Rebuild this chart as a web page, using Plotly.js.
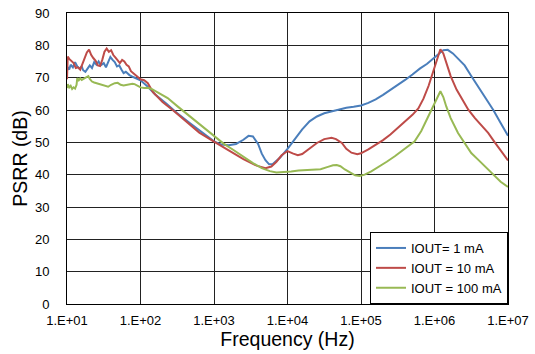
<!DOCTYPE html>
<html>
<head>
<meta charset="utf-8">
<script src="https://cdn.plot.ly/plotly-3.0.1.min.js"></script>
<style>html,body{margin:0;padding:0;background:#fff}#chart{width:535px;height:354px}</style>
</head>
<body>
<div id="chart"></div>
<script>
// log10(frequency in Hz) and PSRR (dB)
var logF_1mA = [1.00,1.03,1.05,1.08,1.11,1.14,1.17,1.20,1.22,1.25,1.28,1.31,1.34,1.37,1.40,1.43,1.46,1.50,1.53,1.56,1.59,1.62,1.65,1.68,1.71,1.74,1.77,1.80,1.85,1.90,1.95,2.00,2.10,2.20,2.35,2.50,2.67,2.85,3.00,3.10,3.20,3.30,3.40,3.47,3.53,3.60,3.65,3.70,3.75,3.80,3.90,4.00,4.10,4.20,4.30,4.40,4.50,4.60,4.70,4.80,4.90,5.00,5.10,5.20,5.30,5.40,5.50,5.60,5.70,5.80,5.90,6.00,6.08,6.12,6.18,6.25,6.33,6.41,6.50,6.60,6.70,6.80,6.90,7.00];
var psrr_1mA = [73.5,72.5,74.0,73.2,74.8,73.5,72.8,73.5,72.3,71.8,72.8,73.8,73.0,74.8,74.0,75.0,73.8,74.5,73.2,74.8,76.4,75.5,74.8,73.5,73.8,72.5,71.4,71.8,70.8,70.2,69.6,69.2,67.2,64.8,62.0,59.0,56.0,53.0,50.3,49.3,49.1,49.5,50.8,52.0,51.8,49.5,46.5,44.5,43.2,43.3,45.3,48.0,51.0,54.0,56.5,58.0,59.0,59.6,60.2,60.7,61.0,61.4,62.2,63.3,64.7,66.2,67.7,69.3,71.0,72.8,74.3,76.4,77.8,78.5,78.6,77.5,75.5,73.8,70.5,67.0,63.8,60.0,56.0,52.0];

var logF_10mA = [1.00,1.01,1.03,1.06,1.09,1.12,1.15,1.18,1.21,1.24,1.27,1.30,1.33,1.36,1.39,1.42,1.45,1.48,1.51,1.54,1.57,1.60,1.63,1.66,1.69,1.72,1.75,1.78,1.81,1.84,1.87,1.91,1.95,2.00,2.05,2.10,2.17,2.30,2.45,2.60,2.80,3.00,3.20,3.40,3.58,3.70,3.78,3.85,3.92,4.00,4.07,4.14,4.20,4.30,4.40,4.50,4.60,4.66,4.74,4.80,4.87,4.95,5.00,5.10,5.20,5.30,5.40,5.50,5.60,5.70,5.78,5.85,5.92,5.98,6.03,6.08,6.12,6.17,6.22,6.30,6.38,6.46,6.55,6.65,6.73,6.82,6.90,7.00];
var psrr_10mA = [69.5,76.5,75.8,75.0,74.5,73.0,73.2,72.5,74.5,76.5,77.8,78.7,77.0,76.0,75.2,73.8,73.6,75.5,78.0,79.0,78.0,78.5,77.0,76.2,75.2,74.5,75.5,75.0,74.0,73.5,72.0,71.2,70.2,69.5,69.2,68.3,65.5,62.5,59.8,57.0,53.0,50.2,47.4,44.8,42.8,42.0,42.5,44.0,46.0,47.3,46.6,46.0,46.4,48.0,49.8,51.0,51.4,51.0,49.8,48.0,46.8,46.3,46.6,47.8,49.2,50.7,52.4,54.4,56.5,58.5,60.5,63.5,67.5,72.0,75.5,78.8,77.5,74.0,70.5,66.3,63.0,60.1,57.5,55.0,52.9,50.0,47.5,44.4];

var logF_100mA = [1.00,1.01,1.03,1.05,1.07,1.09,1.11,1.13,1.14,1.16,1.18,1.20,1.23,1.26,1.29,1.31,1.34,1.37,1.40,1.44,1.48,1.52,1.56,1.60,1.65,1.69,1.73,1.77,1.81,1.85,1.89,1.92,1.96,2.00,2.05,2.10,2.15,2.25,2.37,2.50,2.67,2.85,3.00,3.13,3.26,3.40,3.53,3.65,3.76,3.85,3.95,4.05,4.15,4.25,4.35,4.45,4.55,4.62,4.67,4.72,4.78,4.85,4.92,4.98,5.05,5.14,5.25,5.35,5.46,5.60,5.73,5.82,5.91,6.00,6.08,6.12,6.16,6.22,6.32,6.40,6.50,6.60,6.70,6.80,6.90,7.00];
var psrr_100mA = [66.8,68.0,67.0,67.5,66.5,67.0,66.6,67.8,69.9,69.2,69.8,69.3,69.7,70.2,70.5,69.6,68.8,68.5,68.3,68.0,67.6,67.3,67.2,67.8,68.3,68.4,67.8,67.6,67.8,68.0,68.1,68.0,67.5,67.0,66.8,66.9,66.5,65.2,63.7,61.2,58.0,54.8,51.8,49.6,47.7,45.5,43.6,42.0,41.1,40.7,40.8,41.0,41.3,41.4,41.4,41.7,42.4,42.9,43.0,42.6,41.6,40.6,39.8,39.6,40.0,41.0,42.5,44.0,45.7,48.0,50.3,53.5,58.0,62.0,65.8,64.0,61.1,57.5,52.9,50.0,46.7,44.5,42.2,39.8,37.8,36.2];

var seriesNames = ['IOUT= 1 mA', 'IOUT = 10 mA', 'IOUT = 100 mA'];
var seriesColors = ['#4a7ebb', '#be4b48', '#98b954'];
var xTickVals = [10, 100, 1000, 10000, 100000, 1000000, 10000000];
var xTickText = ['1.E+01','1.E+02','1.E+03','1.E+04','1.E+05','1.E+06','1.E+07'];

function toHz(arr){ return arr.map(function(v){ return Math.pow(10, v); }); }

var xs = [logF_1mA, logF_10mA, logF_100mA];
var ys = [psrr_1mA, psrr_10mA, psrr_100mA];
var traces = xs.map(function(x, i){
  return {x: toHz(x), y: ys[i], type: 'scatter', mode: 'lines', name: seriesNames[i],
          line: {color: seriesColors[i], width: 2}};
});

var layout = {
  width: 535, height: 354,
  margin: {l: 67, r: 27, t: 13, b: 50},
  paper_bgcolor: '#fff', plot_bgcolor: '#fff',
  font: {family: 'Liberation Sans, Arial, sans-serif', size: 13, color: '#000'},
  xaxis: {
    type: 'log', range: [1, 7],
    tickvals: xTickVals, ticktext: xTickText,
    showgrid: true, gridcolor: '#222', gridwidth: 1,
    showline: true, linecolor: '#000', linewidth: 1, mirror: true,
    ticks: '', ticklabelstandoff: 4,
    title: {text: 'Frequency (Hz)', font: {size: 19.5}, standoff: 5},
    tickfont: {size: 13}
  },
  yaxis: {
    range: [0, 90], dtick: 10, tick0: 0,
    showgrid: true, gridcolor: '#222', gridwidth: 1, zeroline: false,
    showline: true, linecolor: '#000', linewidth: 1, mirror: true,
    ticks: '', ticklabelstandoff: 14,
    title: {text: 'PSRR (dB)', font: {size: 19.5}, standoff: 2},
    tickfont: {size: 13}
  },
  legend: {
    x: 1, y: 0, xanchor: 'right', yanchor: 'bottom',
    bgcolor: '#fff', bordercolor: '#000', borderwidth: 1,
    font: {size: 13}, tracegroupgap: 0, itemwidth: 30
  },
  showlegend: true
};

Plotly.newPlot('chart', traces, layout, {displayModeBar: false, staticPlot: true});
</script>
</body>
</html>
